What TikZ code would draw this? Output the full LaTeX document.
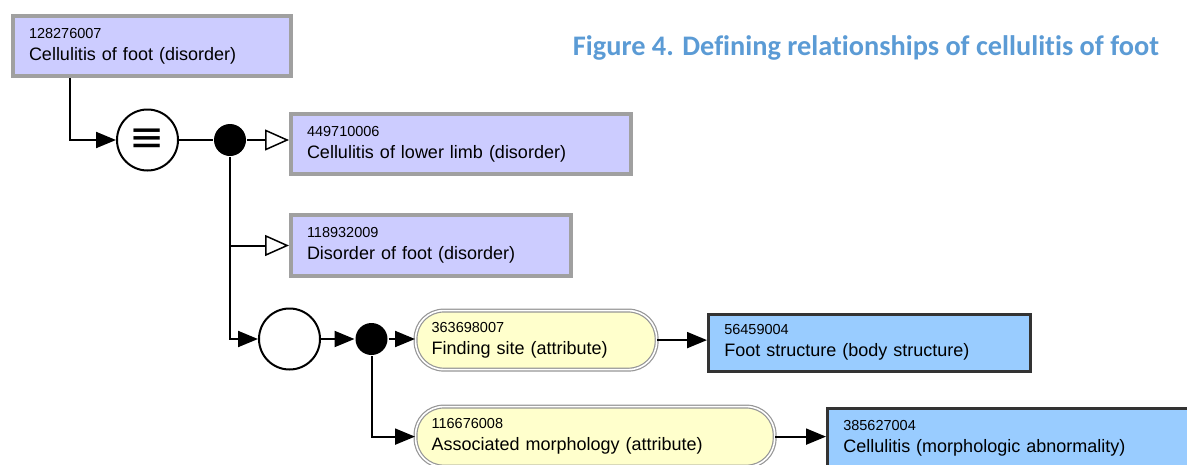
\documentclass[tikz,border=0pt]{standalone}
\usepackage{fontspec}
\usepackage{graphicx}
\setmainfont{Liberation Sans}
\newfontfamily\titlefont[Ligatures=NoCommon]{Carlito}
\newfontfamily\symbolfont{DejaVu Sans}
\usetikzlibrary{positioning,arrows.meta}

\definecolor{conceptfill}{RGB}{204,204,255}
\definecolor{conceptedge}{RGB}{160,160,160}
\definecolor{attrfill}{RGB}{255,255,204}
\definecolor{attredge}{RGB}{150,150,150}
\definecolor{valuefill}{RGB}{153,204,255}
\definecolor{valueedge}{RGB}{51,51,51}
\definecolor{titleblue}{RGB}{91,155,213}

\newcommand{\sctid}[1]{{\fontsize{14.5}{22}\selectfont #1}}

\begin{document}
\begin{tikzpicture}[x=1pt, y=-1pt, line width=2pt,
    box/.style={anchor=north west, align=left, inner xsep=16pt, inner ysep=0pt, font=\fontsize{18}{22}\selectfont},
    concept/.style={box, draw=conceptedge, line width=4pt, fill=conceptfill},
    attribute/.style={box, draw=attredge, line width=1.2pt, double=white, double distance=1.6pt, fill=attrfill, rounded corners=28pt},
    value/.style={box, draw=valueedge, line width=2.5pt, fill=valuefill},
    ring/.style={circle, draw, line width=2pt, fill=white, minimum size=61pt, inner sep=0pt},
    junction/.style={circle, fill=black, minimum size=32pt, inner sep=0pt},
    isa/.style={-{Triangle[open, length=24pt, width=21pt, fill=white, line width=1.5pt]}},
    link/.style={-{Triangle[length=20pt, width=16pt]}}
]
    \path[use as bounding box] (0,0) rectangle (1187,464);
    \clip (0,0) rectangle (1187,464);

    % Title
    \node[anchor=base east, inner sep=0pt, text=titleblue] (title) at (1160,55) {\resizebox{586pt}{!}{\titlefont\bfseries Figure 4. Defining relat\kern0pt ionships of cellulit\kern0pt is of foot}};

    % Defined concept
    \node[concept, minimum width=278pt, minimum height=60pt, text width=246pt] (foot) at (11,14) {\sctid{128276007}\\Cellulitis of foot (disorder)};

    % Definition status and group
    \node[ring] (equiv) at (147.5,140) {\symbolfont\fontsize{42}{42}\selectfont ≡};
    \node[junction] (parents) at (230,140) {};

    % Parent concepts
    \node[concept, minimum width=340pt, minimum height=60pt, text width=308pt] (lowerlimb) at (289,112) {\sctid{449710006}\\Cellulitis of lower limb (disorder)};
    \node[concept, minimum width=280pt, minimum height=61pt, text width=248pt] (footdisorder) at (289,213) {\sctid{118932009}\\Disorder of foot (disorder)};

    % Relationship group
    \node[ring] (group) at (289.5,339) {};
    \node[junction] (attrs) at (371.5,339) {};

    % Attributes
    \node[attribute, minimum width=241pt, minimum height=59pt, text width=209pt] (site) at (415,310) {\sctid{363698007}\\Finding site (attribute)};
    \node[attribute, minimum width=359pt, minimum height=60pt, text width=327pt] (morph) at (415,406) {\sctid{116676008}\\Associated morphology (attribute)};

    % Values
    \node[value, minimum width=322pt, minimum height=57pt, text width=290pt] (footstruct) at (707,313) {\sctid{56459004}\\Foot structure (body structure)};
    \node[value, minimum width=380pt, minimum height=60pt, text width=348pt] (cellulitis) at (826,407) {\sctid{385627004}\\Cellulitis (morphologic abnormality)};

    % Connections
    \draw[link] ([xshift=59pt]foot.south west) |- (equiv);
    \draw (equiv) -- (parents);
    \draw[isa] (parents) -- (lowerlimb.west |- parents);
    \draw[isa] (parents |- footdisorder.west) -- (footdisorder.west);
    \draw[link] (parents) |- (group);
    \draw[link] (group) -- (attrs);
    \draw[link] (attrs) -- (site.west |- attrs);
    \draw[link] (attrs) |- (morph);
    \draw[link] (site.east) -- (footstruct.west |- site.east);
    \draw[link] (morph.east) -- (cellulitis.west |- morph.east);
\end{tikzpicture}
\end{document}
